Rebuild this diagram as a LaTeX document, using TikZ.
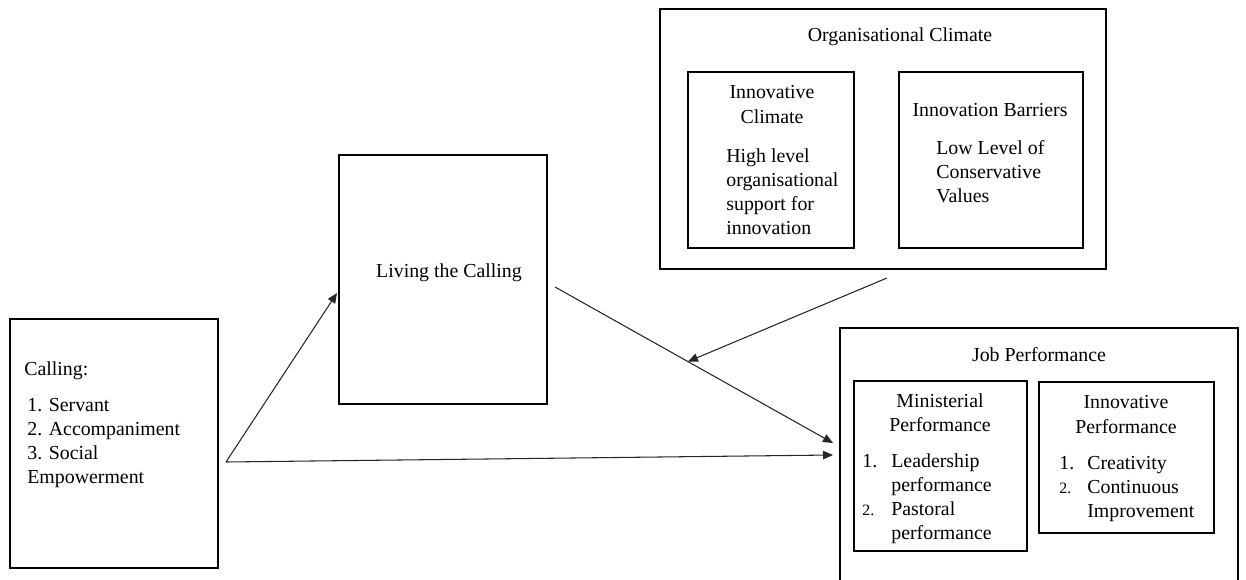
\documentclass[tikz,border=0pt]{standalone}
\usepackage{fontspec}
\setmainfont{Liberation Serif}
\usetikzlibrary{arrows.meta}
\usetikzlibrary{calc}

\begin{document}
\begin{tikzpicture}[
		x=0.02cm, y=-0.02cm,
		font=\fontsize{11.3}{13.7}\selectfont,
		box/.style={draw, line width=1pt, inner sep=0pt},
		txt/.style={inner sep=0pt, align=#1},
		txt/.default=center,
		link/.style={draw=black!85, line width=0.6pt, -{Triangle[length=0.2cm, width=0.17cm]}}
		]
		\clip (0,0) rectangle (1246,580);
		
		% boxes
		\node[box, minimum width=4.16cm, minimum height=4.98cm] (calling) at (114,443.5) {};
		\node[box, minimum width=4.16cm, minimum height=4.98cm] (living) at (443,279.5) {};
		\node[box, minimum width=8.92cm, minimum height=5.2cm] (org) at (883,139) {};
		\node[box, minimum width=3.32cm, minimum height=3.52cm] (innclim) at (771,160) {};
		\node[box, minimum width=3.68cm, minimum height=3.52cm] (barriers) at (991,160) {};
		\node[box, minimum width=7.96cm, minimum height=5.44cm] (job) at (1039,464) {};
		\node[box, minimum width=3.46cm, minimum height=3.4cm] (minist) at (940.5,466) {};
		\node[box, minimum width=3.5cm, minimum height=3.02cm] (innperf) at (1126.5,457.5) {};
		
		% texts
		\node[txt, anchor=west] (callinghead) at (24,371) {Calling:};
		\node[txt=left, anchor=west] (callinglist) at (27,443) {1. Servant\\2. Accompaniment\\3. Social\\Empowerment};
		\node[txt] (livinghead) at (449,273) {Living the Calling};
		
		\node[txt] (orghead) at (900,37) {Organisational Climate};
		\node[txt] (innclimhead) at (772,104.5) {Innovative\\Climate};
		\node[txt=left, anchor=west] (innclimbody) at (726,191.5) {High level\\organisational\\support for\\innovation};
		\node[txt] (barrhead) at (990,110) {Innovation Barriers};
		\node[txt=left, anchor=west] (barrbody) at (936,172) {Low Level of\\Conservative\\Values};
		
		\node[txt] (jobhead) at (1039,355) {Job Performance};
		\node[txt] (ministhead) at (940,412.5) {Ministerial\\Performance};
		\node[txt=left, anchor=west] (ministbody) at (862,499) {\makebox[0.58cm][l]{1.}Leadership\\\hspace*{0.58cm}performance\\\makebox[0.58cm][l]{\small 2.}Pastoral\\\hspace*{0.58cm}performance};
		\node[txt] (innperfhead) at (1126,414.5) {Innovative\\Performance};
		\node[txt=left, anchor=west] (innperfbody) at (1059,489) {\makebox[0.56cm][l]{1.}Creativity\\\makebox[0.56cm][l]{\small 2.}Continuous\\\hspace*{0.56cm}Improvement};
		
		% arrows
		\coordinate (fork) at (226,462);
		\coordinate (lcin) at (337,293);
		\coordinate (lcout) at (555,287);
		\coordinate (jpin) at (833,443);
		\coordinate (jpdirect) at (833,455);
		\coordinate (ocout) at (887,278);
		
		\draw[link] (fork) -- (lcin);
		\draw[link] (fork) -- (jpdirect);
		\draw[link] (lcout) -- (jpin);
		\draw[link] (ocout) -- ($(lcout)!0.478!(jpin)$);
		
\end{tikzpicture}
\end{document}
